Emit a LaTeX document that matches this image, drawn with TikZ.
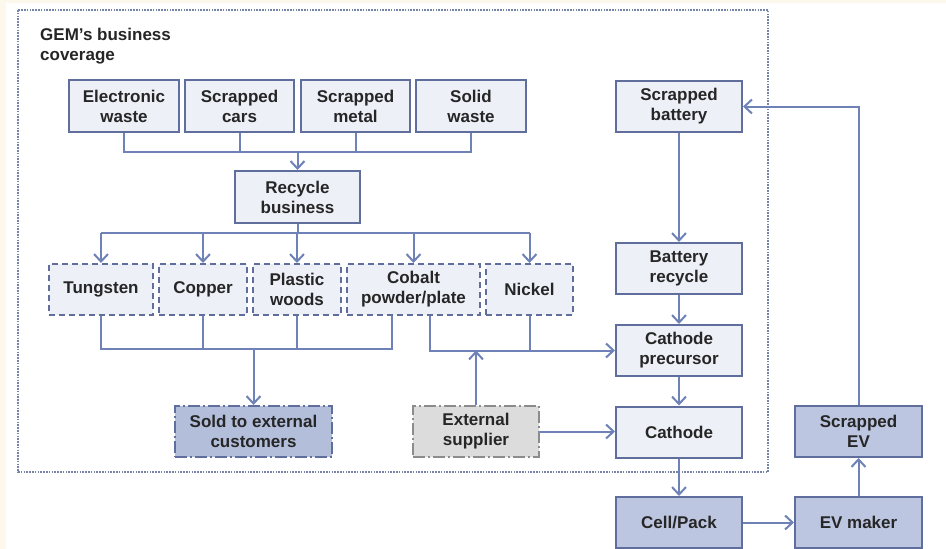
\documentclass[tikz,border=0pt]{standalone}
\usepackage{fontspec}
\setmainfont{Liberation Sans}
\usetikzlibrary{arrows.meta}
\definecolor{boxfill}{HTML}{EDF0F7}
\definecolor{boxdark}{HTML}{BCC6E0}
\definecolor{solddark}{HTML}{B3BEDB}
\definecolor{boxline}{HTML}{5F6E9C}
\definecolor{arrline}{HTML}{6E82B8}
\definecolor{dotline}{HTML}{7583A8}
\definecolor{extfill}{HTML}{DCDCDC}
\definecolor{extline}{HTML}{8C8C8C}
\definecolor{cream}{HTML}{FDF8EC}
\tikzset{
  every node/.style={font=\fontsize{17}{20}\selectfont\bfseries, text=black!85, align=center, inner sep=0pt},
  box/.style={draw=boxline, fill=boxfill, line width=2pt},
  dbox/.style={box, dashed, dash pattern=on 6pt off 4pt},
  darkbox/.style={box, fill=boxdark},
  soldbox/.style={box, fill=solddark, dash pattern=on 12pt off 3pt on 2pt off 3pt},
  extbox/.style={draw=extline, fill=extfill, line width=2pt, dash pattern=on 12pt off 3pt on 2pt off 3pt},
  conn/.style={draw=arrline, line width=2pt},
  arr/.style={conn, -{Straight Barb[length=7.5pt,width=14pt,line width=2pt]}},
}
\begin{document}
\begin{tikzpicture}[x=1pt,y=-1pt]
\useasboundingbox (0,0) rectangle (946,549);
\fill[white] (0,0) rectangle (946,549);
\fill[cream] (0,0) rectangle (6,549);
\fill[cream] (0,0) rectangle (946,2.5);
% dotted frame
\draw[dotline, line width=1.8pt, dash pattern=on 1.6pt off 1.2pt] (18,10) rectangle (768,472);
\node[anchor=north west, align=left] (title) at (40,28) {GEM’s business\\coverage};
% top row
\node[box, minimum width=110pt, minimum height=52pt] (ew) at (124,106) {Electronic\\waste};
\node[box, minimum width=109pt, minimum height=52pt] (sc) at (239.5,106) {Scrapped\\cars};
\node[box, minimum width=109pt, minimum height=52pt] (sm) at (355.5,106) {Scrapped\\metal};
\node[box, minimum width=110pt, minimum height=52pt] (sw) at (471,106) {Solid\\waste};
\node[box, minimum width=125pt, minimum height=52pt] (rb) at (297.5,197) {Recycle\\business};
% dashed row
\node[dbox, minimum width=104pt, minimum height=51pt] (tu) at (101,289.5) {Tungsten};
\node[dbox, minimum width=88pt, minimum height=51pt] (cu) at (203,289.5) {Copper};
\node[dbox, minimum width=88pt, minimum height=51pt] (pw) at (297,289.5) {Plastic\\woods};
\node[dbox, minimum width=133pt, minimum height=51pt] (co) at (413.5,289.5) {Cobalt\\powder/plate};
\node[dbox, minimum width=87pt, minimum height=51pt] (ni) at (529.5,289.5) {Nickel};
\node[soldbox, minimum width=157pt, minimum height=51pt] (sold) at (253.5,431.5) {Sold to external\\customers};
\node[extbox, minimum width=126pt, minimum height=51pt] (es) at (476,431.5) {External\\supplier};
% right column
\node[box, minimum width=126pt, minimum height=51pt] (sb) at (679,106.5) {Scrapped\\battery};
\node[box, minimum width=126pt, minimum height=51pt] (br) at (679,268.5) {Battery\\recycle};
\node[box, minimum width=126pt, minimum height=51pt] (cp) at (679,350.5) {Cathode\\precursor};
\node[box, minimum width=126pt, minimum height=51pt] (ca) at (679,432) {Cathode};
\node[darkbox, minimum width=126pt, minimum height=51pt] (cell) at (679,522.5) {Cell/Pack};
\node[darkbox, minimum width=127pt, minimum height=51pt] (ev) at (858.5,522.5) {EV maker};
\node[darkbox, minimum width=127pt, minimum height=51pt] (sev) at (858.5,431.5) {Scrapped\\EV};
% merge into recycle business
\coordinate (j1) at (297.5,152);
\draw[conn] (ew.south) |- (sw.south |- j1) -- (sw.south);
\draw[conn] (sc.south) -- (sc.south |- j1);
\draw[conn] (sm.south) -- (sm.south |- j1);
\draw[arr] (j1) -- (rb.north);
% branch to materials
\coordinate (j2) at (297.5,233);
\draw[conn] (rb.south) -- (j2);
\draw[conn] (tu.north |- j2) -- (ni.north |- j2);
\foreach \n in {tu,cu,pw,co,ni} \draw[arr] (\n.north |- j2) -- (\n.north);
% materials to sold
\coordinate (j3) at (253.5,349);
\draw[conn] (tu.south) |- ([xshift=-21.5pt]co.south |- j3) -- ([xshift=-21.5pt]co.south);
\draw[conn] (cu.south) -- (cu.south |- j3);
\draw[conn] (pw.south) -- (pw.south |- j3);
\draw[arr] (j3) -- (sold.north);
% to cathode precursor
\draw[arr] ([xshift=16.5pt]co.south) |- (cp.west);
\draw[conn] (ni.south) -- (ni.south |- cp.west);
\draw[arr] (es.north) -- (es.north |- cp.west);
\draw[arr] (es.east) -- (ca.west |- es.east);
% right column flow
\draw[arr] (sb.south) -- (br.north);
\draw[arr] (br.south) -- (cp.north);
\draw[arr] (cp.south) -- (ca.north);
\draw[arr] (ca.south) -- (cell.north);
\draw[arr] (cell.east) -- (ev.west);
\draw[arr] (ev.north) -- (sev.south);
\draw[arr] (sev.north) |- (sb.east);
\end{tikzpicture}
\end{document}
